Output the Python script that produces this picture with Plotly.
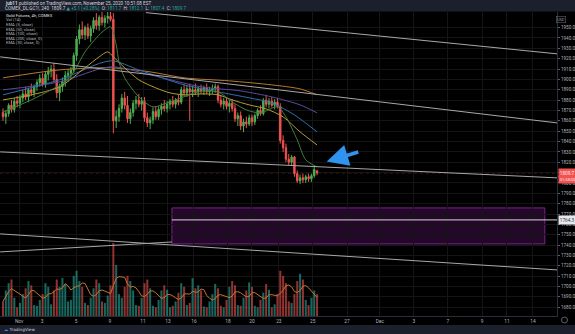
import plotly.graph_objects as go
import pandas as pd

# ---------------- data ----------------
open_ = [1868,1864,1867,1875,1871,1879, 1877,1882,1886,1883,1890,1887,
         1893,1897,1901,1895,1905,1908, 1910,1900,1887,1893,1898,1904,
         1906,1909,1923,1939,1948,1943, 1950,1942,1949,1957,1952,1960,
         1955,1959,1961,1958,1860,1864, 1872,1882,1875,1862,1868,1877,
         1880,1876,1879,1863,1858,1861, 1869,1864,1871,1874,1872,1876,
         1879,1876,1880,1878,1890,1887, 1891,1888,1890,1888,1891,1889,
         1892,1888,1890,1891,1893,1880, 1876,1879,1874,1877,1872,1862,
         1865,1855,1859,1857,1863,1859, 1865,1870,1867,1880,1876,1879,
         1875,1878,1874,1841,1834,1823, 1820,1825,1809,1802,1805,1803,
         1806,1804,1807,1811.7]
high  = [1872,1870,1877,1880,1882,1884, 1885,1890,1893,1892,1896,1895,
         1900,1905,1906,1908,1912,1914, 1916,1905,1896,1902,1908,1910,
         1912,1926,1942,1953,1956,1952, 1954,1952,1960,1964,1962,1966,
         1962,1966,1968,1964,1870,1876, 1886,1888,1884,1872,1880,1884,
         1886,1883,1883,1868,1864,1873, 1874,1874,1877,1880,1879,1881,
         1884,1882,1885,1893,1895,1894, 1896,1894,1896,1893,1895,1894,
         1896,1893,1895,1896,1895,1885, 1882,1883,1880,1881,1876,1868,
         1869,1862,1864,1866,1866,1867, 1872,1875,1882,1885,1882,1883,
         1881,1882,1877,1846,1838,1828, 1827,1826,1812,1808,1809,1808,
         1809,1809,1816,1812.1]
low   = [1860,1857,1864,1868,1868,1873, 1872,1878,1880,1878,1884,1883,
         1889,1893,1893,1892,1899,1902, 1897,1882,1879,1888,1893,1898,
         1901,1906,1918,1934,1939,1938, 1939,1936,1945,1948,1947,1952,
         1950,1954,1956,1848,1853,1859, 1868,1871,1858,1857,1864,1871,
         1873,1870,1859,1854,1852,1857, 1861,1861,1866,1869,1868,1871,
         1873,1872,1875,1876,1884,1883, 1860,1883,1885,1883,1886,1885,
         1886,1884,1886,1887,1877,1873, 1871,1871,1868,1869,1859,1855,
         1851,1849,1853,1855,1855,1856, 1862,1865,1865,1873,1872,1873,
         1871,1872,1838,1830,1820,1817, 1817,1806,1800,1799,1800,1800,
         1801,1801,1805,1807.4]
close = [1864,1867,1875,1871,1879,1877, 1882,1886,1883,1890,1887,1893,
         1897,1901,1895,1905,1908,1910, 1900,1887,1893,1898,1904,1906,
         1909,1923,1939,1948,1943,1950, 1942,1949,1957,1952,1960,1955,
         1959,1961,1958,1860,1864,1872, 1882,1875,1862,1868,1877,1880,
         1876,1879,1863,1858,1861,1869, 1864,1871,1874,1872,1876,1879,
         1876,1880,1878,1890,1887,1891, 1888,1890,1888,1891,1889,1892,
         1888,1890,1891,1893,1880,1876, 1879,1874,1877,1872,1862,1865,
         1855,1859,1857,1863,1859,1865, 1870,1867,1880,1876,1879,1875,
         1878,1874,1841,1834,1823,1820, 1825,1809,1802,1805,1803,1806,
         1804,1807,1813,1809.7]
volume = [20,35,45,50,25,12, 18,30,38,48,42,15, 14,22,30,45,40,16,
          35,50,40,52,44,20, 22,55,62,48,40,18, 15,25,38,50,45,20,
          18,28,42,100,70,30, 25,40,55,48,35,15, 14,25,45,50,38,14,
          12,22,35,42,36,12, 14,20,32,45,40,15, 18,52,38,42,35,13,
          12,20,30,44,38,14, 12,22,40,48,42,15, 14,25,35,46,40,14,
          12,22,32,44,36,12, 16,30,62,55,45,20, 18,30,48,58,50,22,
          15,25,35,30]
bars = list(range(len(close)))

# EMA lines (bar index, price)
ema5_x = [0,10,17,22,25,29,33,36,38,40,41,43,48,53,58,63,69,76,81,86,91,97,100,104,107,111]
ema5_y = [1868.6,1880.2,1889.9,1897.6,1907.3,1926.6,1940.1,1947.9,1950.8,1933.4,1917.0,1901.5,
          1883.2,1873.5,1877.4,1882.2,1888.0,1888.0,1878.3,1870.6,1867.7,1873.5,1863.8,1841.6,1822.3,1815.5]
ema50_x = [0,10,20,29,34,37,39,43,48,54,59,64,70,76,81,87,93,99,105,111]
ema50_y = [1880.2,1885.1,1892.8,1911.2,1921.8,1926.6,1921.8,1911.2,1899.6,1891.8,1887.0,1885.1,
           1886.0,1885.1,1880.2,1875.4,1871.5,1863.8,1849.3,1836.7]
ema100_x = [0,20,38,48,64,76,87,95,103,111]
ema100_y = [1885.1,1899.6,1917.9,1909.2,1894.7,1888.0,1882.2,1877.3,1865.7,1849.3]
ema200_x = [0,20,38,52,70,84,95,105,111]
ema200_y = [1889.9,1897.6,1912.1,1904.4,1892.8,1888.9,1883.1,1875.4,1867.7]
ema30_x = [0,20,38,52,64,80,95,105,111]
ema30_y = [1901.5,1909.2,1911.2,1907.3,1901.5,1898.6,1894.7,1890.8,1885.1]

# drawings (time in bar index, price)
line_t0 = [50.5, -1.0, -1.0, -1.0, -1.0]
line_p0 = [1964.5, 1921.8, 1830.0, 1750.8, 1733.4]
line_t1 = [195.8, 195.8, 195.8, 195.8, 59.7]
line_p1 = [1924.7, 1858.0, 1804.9, 1716.0, 1743.0]
hline_t = [59.7, 195.8]
hline_p = 1764.3
zone_t = [59.7, 191.5]
zone_p = [1741.1, 1775.9]
arrow_head = (114.4, 1820.6)
arrow_tail = (126.1, 1830.3)

tick_pos = [5.7, 13.8, 25.8, 37.8, 49.5, 58.3, 67.5, 79.5, 88.0, 97.5, 109.5,
            121.6, 133.2, 145.2, 157.2, 169.3, 178.1, 187.3]
tick_txt = ["Nov", "3", "5", "9", "11", "13", "16", "18", "20", "23", "25",
            "27", "Dec", "3", "7", "9", "11", "14"]
price_ticks = list(range(1680, 1960, 10))
last_price = close[-1]

# ---------------- figure ----------------
W, H = 575, 334
ML, MR, MT, MB = 0, 18, 12, 18
PW, PH = W - ML - MR, H - MT - MB


def px(x):
    return (x - ML) / PW


def py(y):
    return (H - MB - y) / PH


GREEN = "#4caf50"
RED = "#f05350"

fig = go.Figure()

vol_colors = ["rgba(38,166,154,0.62)" if c >= o else "rgba(239,83,80,0.6)"
              for o, c in zip(open_, close)]
fig.add_trace(go.Bar(x=bars, y=volume, marker_color=vol_colors, marker_line_width=0,
                     width=0.72, yaxis="y2"))
vol_ma = pd.Series(volume).rolling(5, min_periods=1).mean()
fig.add_trace(go.Scatter(x=bars, y=vol_ma, mode="lines", yaxis="y2",
                         line=dict(color="#c8742e", width=1)))

for xs, ys, col in [(ema30_x, ema30_y, "#b97a2e"), (ema200_x, ema200_y, "#5b4ba3"),
                    (ema100_x, ema100_y, "#2d70ab"), (ema50_x, ema50_y, "#b49d34"),
                    (ema5_x, ema5_y, "#457d3c")]:
    fig.add_trace(go.Scatter(x=xs, y=ys, mode="lines",
                             line=dict(color=col, width=1, shape="spline", smoothing=0.8)))

fig.add_trace(go.Candlestick(x=bars, open=open_, high=high, low=low, close=close,
                             increasing=dict(line=dict(color=GREEN, width=1), fillcolor=GREEN),
                             decreasing=dict(line=dict(color=RED, width=1), fillcolor=RED),
                             whiskerwidth=0))

shapes = []
# header and footer bands
shapes.append(dict(type="rect", xref="paper", yref="paper", x0=px(0), x1=px(W),
                   y0=py(11.5), y1=py(0), fillcolor="#1c202c", line_width=0, layer="above"))
shapes.append(dict(type="rect", xref="paper", yref="paper", x0=px(0), x1=px(W),
                   y0=py(H), y1=py(325), fillcolor="#1c202c", line_width=0, layer="above"))
# purple zone
shapes.append(dict(type="rect", xref="x", yref="y", x0=zone_t[0], x1=zone_t[1],
                   y0=zone_p[0], y1=zone_p[1], fillcolor="rgba(130,30,150,0.28)",
                   line=dict(color="rgba(150,40,170,0.8)", width=1), layer="below"))
# trendlines
for t0, p0, t1, p1 in zip(line_t0, line_p0, line_t1, line_p1):
    shapes.append(dict(type="line", xref="x", yref="y", x0=t0, y0=p0, x1=t1, y1=p1,
                       line=dict(color="#a8a8a8", width=1)))
shapes.append(dict(type="line", xref="x", yref="y", x0=hline_t[0], x1=hline_t[1],
                   y0=hline_p, y1=hline_p, line=dict(color="#d8d8d8", width=1)))
# last price line
shapes.append(dict(type="line", xref="paper", yref="y", x0=0, x1=1, y0=last_price, y1=last_price,
                   line=dict(color="rgba(240,83,80,0.45)", width=1, dash="dot"), layer="below"))
# settings circle at bottom-right
shapes.append(dict(type="circle", xref="paper", yref="paper", x0=px(561.5), x1=px(567.5),
                   y0=py(323), y1=py(317), line=dict(color="#5d606b", width=1)))

ann = []
hdr_font = dict(family="Roboto, DejaVu Sans", size=4.6, color="#d1d4dc")
ann.append(dict(xref="paper", yref="paper", x=px(3), y=py(3), xanchor="left", yanchor="middle",
                showarrow=False, font=hdr_font,
                text="<b>jub11</b> published on TradingView.com, November 25, 2020 10:51:08 EST"))
ann.append(dict(xref="paper", yref="paper", x=px(3), y=py(8), xanchor="left", yanchor="middle",
                showarrow=False, font=hdr_font,
                text="COMEX_DL:GC1!, 240  1809.7 <span style='color:#26a69a'>\u25b2 +5.1 (+0.28%)</span>"
                     "  O: <span style='color:#26a69a'>1811.7</span>  H: <span style='color:#26a69a'>1812.1</span>"
                     "  L: <span style='color:#26a69a'>1807.4</span>  C: <span style='color:#26a69a'>1809.7</span>"))
legend_lines = ["Gold Futures, 4h, COMEX", "Vol (14)", "EMA (5, close)", "EMA (50, close)",
                "EMA (100, close)", "EMA (200, close, 0)", "EMA (30, close, 0)"]
for i, t in enumerate(legend_lines):
    ann.append(dict(xref="paper", yref="paper", x=px(4), y=py(15.5 + 4.5 * i), xanchor="left",
                    yanchor="middle", showarrow=False, text=t,
                    font=dict(family="Roboto, DejaVu Sans", size=4.2,
                              color="#e0e3eb" if i == 0 else "#b2b5be")))
# axis labels: USD, last price, countdown, drawing price
ann.append(dict(xref="paper", yref="paper", x=px(566), y=py(15.7), showarrow=False, text="USD",
                font=dict(size=3.6, color="#b2b5be"), bordercolor="#5d606b", borderwidth=0.6,
                borderpad=0.6))
ann.append(dict(xref="paper", yref="y", x=px(557.5), y=last_price, xanchor="left", showarrow=False,
                text=f"{last_price:.1f}", bgcolor=RED, font=dict(size=4.6, color="#ffffff"),
                borderpad=0.8))
ann.append(dict(xref="paper", yref="paper", x=px(557.5), y=py(179.3), xanchor="left",
                showarrow=False, text="01:58:56", bgcolor=RED,
                font=dict(size=4.0, color="#ffffff"), borderpad=0.8))
ann.append(dict(xref="paper", yref="y", x=px(557.5), y=hline_p, xanchor="left", showarrow=False,
                text=f"{hline_p:.1f}", bgcolor="#e6e8ee", font=dict(size=4.6, color="#131722"),
                borderpad=0.8))
# arrow
ann.append(dict(x=arrow_head[0], y=arrow_head[1], ax=arrow_tail[0], ay=arrow_tail[1],
                xref="x", yref="y", axref="x", ayref="y", text="", showarrow=True,
                arrowhead=2, arrowsize=1.2, arrowwidth=3.6, arrowcolor="#2f94f0"))
# footer logo
ann.append(dict(xref="paper", yref="paper", x=px(2), y=py(329.5), xanchor="left", yanchor="middle",
                showarrow=False, text="<span style='color:#2f94f0'>\u2601</span> TradingView",
                font=dict(family="DejaVu Sans", size=4.2, color="#d1d4dc")))

fig.update_layout(
    width=W, height=H, margin=dict(l=ML, r=MR, t=MT, b=MB),
    paper_bgcolor="#000000", plot_bgcolor="#000000",
    showlegend=False, hovermode=False,
    shapes=shapes, annotations=ann,
    xaxis=dict(range=[-1.06, 195.8], tickvals=tick_pos, ticktext=tick_txt,
               tickfont=dict(family="Roboto, DejaVu Sans", size=4.8, color="#b2b5be"),
               showgrid=True, gridcolor="#151515", gridwidth=1, zeroline=False,
               showline=True, linecolor="#2a2e39", ticks="", rangeslider=dict(visible=False),
               fixedrange=True),
    yaxis=dict(side="right", range=[1671.5, 1965.1], tickvals=price_ticks,
               ticktext=[f"{v:.1f}" for v in price_ticks],
               tickfont=dict(family="Roboto, DejaVu Sans", size=4.6, color="#b2b5be"),
               showgrid=True, gridcolor="#141414", zeroline=False, showline=True,
               linecolor="#2a2e39", ticks="outside", ticklen=2, tickcolor="#5d606b"),
    yaxis2=dict(overlaying="y", range=[0, 100 / 0.24], visible=False),
)

fig.write_html("out.html")
